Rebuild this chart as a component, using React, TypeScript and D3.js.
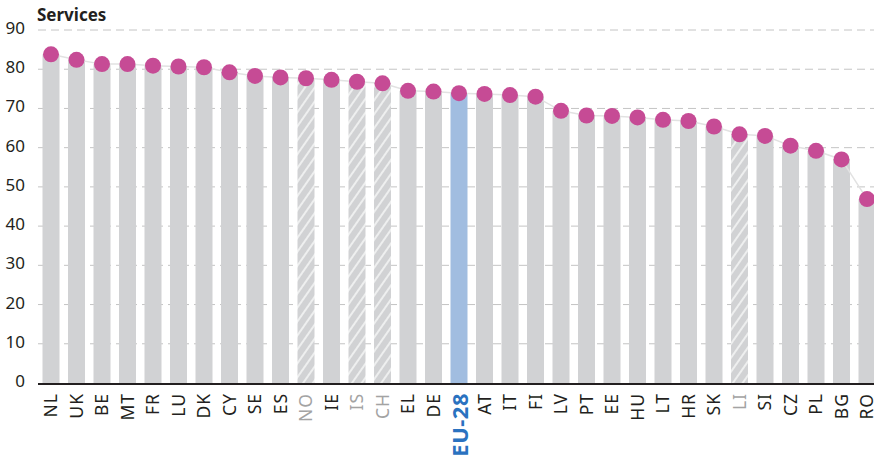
import React from "react";
import * as d3 from "d3";

const categories = ["NL","UK","BE","MT","FR","LU","DK","CY","SE","ES","NO","IE","IS","CH","EL","DE","EU-28","AT","IT","FI","LV","PT","EE","HU","LT","HR","SK","LI","SI","CZ","PL","BG","RO"];
const values = [83.8,82.4,81.3,81.3,80.9,80.7,80.5,79.2,78.3,77.9,77.7,77.3,76.8,76.4,74.5,74.3,73.9,73.7,73.4,73.0,69.4,68.2,68.1,67.7,67.1,66.8,65.4,63.4,63.0,60.5,59.2,57.0,46.9];
const hatched = ["NO","IS","CH","LI"];
const highlight = "EU-28";
const yTicks = [0,10,20,30,40,50,60,70,80,90];
const title = "Services";

const W = 874, H = 464;
const FONT = "'Noto Sans', sans-serif";

export default function App() {
  const x = d3.scalePoint<string>().domain(categories).range([51, 867]);
  const y = d3.scaleLinear().domain([0, 90]).range([383, 30]);
  const bw = 17;
  const line = d3.line<number>().x((_, i) => x(categories[i])!).y(d => y(d));

  return (
    <svg width={W} height={H} style={{ position: "fixed", left: 0, top: 0, background: "#fff" }} fontFamily={FONT}>
      <defs>
        <pattern id="hatch" patternUnits="userSpaceOnUse" width="8" height="8" patternTransform="rotate(-55)">
          <rect width="8" height="8" fill="#d1d2d4" />
          <line x1="0" y1="4" x2="8" y2="4" stroke="#fff" strokeWidth="1.3" />
        </pattern>
      </defs>
      <text x={37} y={21} fontSize={17} fontWeight="bold" fill="#231f20">{title}</text>
      {yTicks.map(t => (
        <g key={t}>
          {t > 0 && <line x1={38} x2={874} y1={y(t)} y2={y(t)} stroke="#c4c4c4" strokeWidth={1} strokeDasharray="8,5" />}
          <text x={25} y={y(t) + 4} textAnchor="end" fontSize={17} fill="#231f20">{t}</text>
        </g>
      ))}
      {categories.map((c, i) => (
        <rect key={c} x={x(c)! - bw / 2} y={y(values[i])} width={bw} height={y(0) - y(values[i])}
          fill={c === highlight ? "#a1bde0" : hatched.includes(c) ? "url(#hatch)" : "#d1d2d4"} />
      ))}
      <line x1={38} x2={874} y1={y(0) + 1} y2={y(0) + 1} stroke="#231f20" strokeWidth={2} />
      <path d={line(values)!} fill="none" stroke="#e2e2e2" strokeWidth={1.5} />
      {categories.map((c, i) => (
        <circle key={c} cx={x(c)!} cy={y(values[i])} r={8} fill="#c64b95" />
      ))}
      {categories.map(c => (
        <text key={c} transform={`translate(${x(c)! + (c === highlight ? 1.5 : 0)},393) rotate(-90)`} dy="0.36em" textAnchor="end"
          fontSize={c === highlight ? 22 : 17.5}
          letterSpacing={c === highlight ? 0.5 : 1}
          fontWeight={c === highlight ? "bold" : "normal"}
          fill={c === highlight ? "#2a72c0" : hatched.includes(c) ? "#a3a3a3" : "#231f20"}>{c}</text>
      ))}
    </svg>
  );
}
